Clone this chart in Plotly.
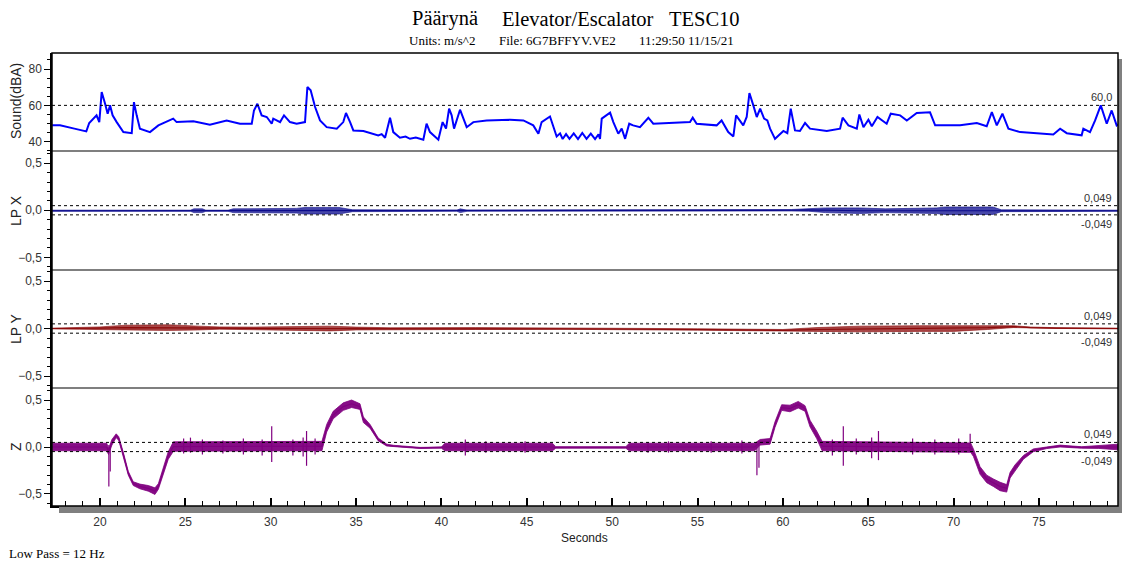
import plotly.graph_objects as go

W, H = 1122, 563

# ---------------- data ----------------
sound_t = [17.2, 17.66, 18.5, 19.2, 19.37, 19.8, 19.96, 20.1, 20.3, 20.45, 20.59, 20.74, 20.98, 21.37, 21.86,
           21.99, 22.15, 22.34, 22.93, 23.42, 24.29, 24.49, 25.47, 26.44, 27.42, 28.2, 28.89, 29.02, 29.22,
           29.47, 29.77, 30.06, 30.15, 30.55, 30.78, 31.13, 31.52, 32.01, 32.15, 32.34, 32.6, 32.89, 33.28,
           33.87, 34.25, 34.41, 34.65, 34.84, 35.43, 36.0, 36.3, 36.5, 36.7, 36.99, 37.18, 37.57, 37.9, 38.16,
           38.5, 38.94, 39.13,
           39.33, 39.82, 40.07, 40.27, 40.45, 40.6, 40.74, 41.09, 41.48, 41.87, 42.65, 44.02, 44.8, 45.38,
           45.68, 45.87, 46.36, 46.75, 46.95, 47.1, 47.3, 47.5, 47.75, 48.0, 48.25, 48.5, 48.75, 49.0, 49.2,
           49.29, 49.39, 49.88, 50.07, 50.36, 50.56, 50.76, 51.0,
           51.23, 51.63, 52.12, 52.41, 53.58, 54.56, 54.72, 54.95, 56.12, 56.41, 56.8, 57.1, 57.26, 57.68,
           57.88, 58.04, 58.27, 58.47, 58.67, 58.9, 59.09, 59.25, 59.54, 60.03, 60.26, 60.46, 60.71, 61.0,
           61.3, 61.59, 62.57, 63.35, 63.5, 63.84, 64.33, 64.48, 64.72, 65.01, 65.21, 65.54, 66.08, 66.32,
           66.87, 67.26, 67.84, 68.62, 68.92, 69.6, 70.38, 71.36, 71.94, 72.24, 72.53, 72.86, 73.21, 73.9,
           74.67, 75.84, 76.24, 76.63, 77.5, 77.6, 77.99, 78.29, 78.62, 78.97, 79.26, 79.55, 79.63]
sound_db = [49.0, 49.0, 47.2, 45.7, 50.3, 54.5, 50.8, 67.3, 60.9, 55.4, 60.0, 54.5, 50.8, 45.3, 44.7,
            61.8, 54.5, 47.2, 45.3, 49.0, 52.7, 50.8, 51.2, 49.4, 51.7, 49.9, 49.9, 57.2, 60.9,
            54.5, 53.6, 49.9, 52.7, 50.8, 54.5, 50.8, 49.9, 50.8, 70.1, 68.3, 59.1, 51.7, 48.0,
            47.2, 50.8, 55.8, 50.8, 46.2, 45.9, 44.4, 43.5, 44.2, 42.2, 53.2, 45.3, 42.2, 42.8, 41.6,
            42.3, 41.1, 49.9,
            45.3, 41.1, 50.8, 47.2, 58.2, 54.5, 47.2, 57.6, 48.0, 50.8, 51.7, 52.1, 51.7, 49.0,
            44.4, 50.8, 53.9, 42.9, 44.6, 41.5, 44.2, 41.6, 44.6, 41.5, 44.8, 41.6, 44.5, 41.5, 44.0,
            41.6, 52.7, 56.0, 50.8, 44.4, 47.2, 41.6, 49.9,
            49.0, 48.0, 53.2, 49.9, 50.2, 50.8, 53.2, 49.9, 49.0, 51.7, 45.3, 42.9, 54.5, 49.0,
            53.6, 66.8, 60.0, 53.6, 58.2, 52.7, 51.7, 47.2, 41.6, 45.9, 44.7, 58.2, 46.2, 45.9,
            50.3, 47.2, 45.9, 47.2, 53.2, 49.0, 47.2, 55.0, 48.0, 52.1, 48.5, 53.6, 49.9, 55.4,
            54.5, 51.7, 55.8, 56.2, 49.0, 49.0, 49.0, 50.3, 48.5, 56.3, 49.0, 55.4, 47.2, 45.3,
            44.7, 44.0, 47.2, 44.7, 43.5, 47.2, 45.3, 51.7, 60.0, 49.9, 57.2, 49.0, 49.5]

lpx_t    = [17.2, 25.3, 25.5, 26.0, 26.2, 27.5, 27.8, 31.5, 32.0, 34.0, 34.8, 40.9, 41.1, 41.5, 60.5,
            61.5, 62.5, 64.5, 66.0, 69.0, 69.5, 72.3, 72.8, 79.63]
lpx_mid  = [-0.005, -0.005, -0.005, -0.005, -0.005, -0.005, -0.005, -0.005, -0.005, -0.005, -0.005,
            -0.005, -0.005, -0.005, 0.0, 0.005, 0.0, -0.005, -0.005, -0.005, -0.005, -0.005, -0.005, -0.005]
lpx_half = [0.006, 0.006, 0.02, 0.02, 0.006, 0.006, 0.02, 0.025, 0.035, 0.035, 0.01, 0.006, 0.02, 0.006,
            0.008, 0.015, 0.025, 0.03, 0.02, 0.03, 0.04, 0.04, 0.01, 0.006]

lpy_t    = [17.2, 18.8, 20.0, 21.5, 24.0, 25.8, 27.0, 29.0, 31.5, 33.5, 35.0, 37.0, 42.0, 47.0, 50.0,
            55.0, 58.0, 60.0, 62.0, 64.5, 68.0, 70.0, 72.0, 73.5, 74.5, 76.0, 79.63]
lpy_mid  = [0.0, 0.0, 0.005, 0.01, 0.01, 0.005, 0.005, 0.0, 0.0, 0.0, 0.0, 0.0, 0.0, 0.0, -0.005,
            -0.01, -0.015, -0.02, -0.01, -0.005, 0.0, 0.0, 0.01, 0.02, 0.01, 0.005, 0.0]
lpy_half = [0.004, 0.008, 0.012, 0.025, 0.03, 0.02, 0.012, 0.015, 0.02, 0.025, 0.015, 0.008, 0.01, 0.008,
            0.006, 0.008, 0.008, 0.01, 0.02, 0.03, 0.03, 0.03, 0.02, 0.01, 0.006, 0.004, 0.004]

z_t    = [17.2, 20.4, 20.5, 20.7, 20.95, 21.1, 21.37, 21.66, 21.95, 22.34, 22.83, 23.22, 23.42, 23.71,
          24.0, 24.3, 33.0, 33.28, 33.66, 34.25, 34.74, 35.23, 35.43, 35.82, 36.3, 36.8, 37.2, 38.75,
          40.0, 40.2, 46.5, 46.7, 50.8, 51.0, 58.35, 58.67, 59.25, 59.54, 59.93, 60.42, 60.9, 61.3,
          61.59, 61.98, 62.3, 71.0, 71.16, 71.55, 71.94, 72.33, 72.72, 73.11, 73.31, 73.6, 74.09, 74.67,
          75.45, 76.24, 77.5, 78.5, 79.63]
z_mid  = [0.0, 0.0, -0.05, 0.05, 0.12, 0.09, -0.08, -0.28, -0.39, -0.42, -0.44, -0.47, -0.42, -0.25,
          -0.09, 0.005, 0.01, 0.2, 0.34, 0.43, 0.46, 0.43, 0.29, 0.22, 0.08, 0.02, 0.01, -0.01,
          -0.007, 0.0, 0.0, -0.005, -0.005, 0.0, 0.0, 0.05, 0.06, 0.24, 0.42, 0.41, 0.45, 0.41,
          0.25, 0.13, 0.01, -0.007, -0.06, -0.25, -0.34, -0.38, -0.42, -0.44, -0.30, -0.22, -0.11, -0.035,
          -0.007, 0.01, -0.005, 0.0, 0.0]
z_half = [0.04, 0.04, 0.03, 0.03, 0.02, 0.02, 0.02, 0.02, 0.02, 0.025, 0.03, 0.035, 0.03, 0.03,
          0.04, 0.05, 0.05, 0.04, 0.04, 0.04, 0.04, 0.03, 0.03, 0.02, 0.015, 0.01, 0.008, 0.006,
          0.006, 0.04, 0.04, 0.008, 0.008, 0.04, 0.04, 0.03, 0.03, 0.03, 0.03, 0.035, 0.035, 0.03,
          0.035, 0.04, 0.05, 0.05, 0.04, 0.04, 0.04, 0.04, 0.045, 0.04, 0.03, 0.03, 0.02, 0.015,
          0.01, 0.01, 0.008, 0.015, 0.03]

# isolated spikes in the Z trace: time, top, bottom
zs_t  = [20.52, 20.6, 24.9, 25.3, 26.0, 27.2, 28.4, 29.5, 30.06, 31.3, 31.9, 32.1, 32.6, 41.4, 42.6, 44.9,
         52.1, 53.3, 55.8, 57.6, 58.48, 58.6, 62.9, 63.54, 64.3, 65.2, 65.6, 67.6, 68.9, 70.3, 70.97]
zs_hi = [0.02, 0.0, 0.09, 0.10, 0.08, 0.07, 0.09, 0.08, 0.22, 0.08, 0.10, 0.17, 0.09, 0.08, 0.06, 0.06,
         0.05, 0.06, 0.06, 0.07, 0.0, 0.03, 0.08, 0.22, 0.09, 0.10, 0.17, 0.09, 0.08, 0.09, 0.14]
zs_lo = [-0.42, -0.26, -0.07, -0.06, -0.08, -0.07, -0.08, -0.09, -0.16, -0.09, -0.10, -0.20, -0.08, -0.09,
         -0.06, -0.06, -0.06, -0.06, -0.06, -0.07, -0.30, -0.22, -0.09, -0.20, -0.08, -0.12, -0.14, -0.08,
         -0.08, -0.08, -0.05]

sound_ref = [60.0]
lp_ref = [0.049, -0.049]
sound_ref_lbl = ["60,0"]
lp_ref_lbl = ["0,049", "-0,049"]

x_range = [17.19, 79.63]
sound_range = [34.9, 88.8]
lpx_range = [-0.635, 0.63]
lpy_range = [-0.626, 0.616]
z_range = [-0.628, 0.628]

# ---------------- layout helpers ----------------
def px(x):
    return x / W


def py(y):
    return 1 - y / H


L, R = 52, 1118
TOP, B1, B2, B3, BOT = 53, 151, 270, 388, 506
xdom = [px(L), px(R)]

SANS = "Liberation Sans, Arial, sans-serif"
SERIF = "Liberation Serif, Times New Roman, serif"
TXT = "#333333"

fig = go.Figure()

fig.add_trace(go.Scatter(x=sound_t, y=sound_db, mode="lines", xaxis="x", yaxis="y",
                         line=dict(color="#0000ff", width=2), hoverinfo="skip", showlegend=False))


def band(t, mid, half, yaxis, fillc, linec, lw):
    up = [m + h for m, h in zip(mid, half)]
    lo = [m - h for m, h in zip(mid, half)]
    fig.add_trace(go.Scatter(x=list(t) + list(t)[::-1], y=up + lo[::-1], mode="lines",
                             xaxis="x", yaxis=yaxis, fill="toself", fillcolor=fillc,
                             line=dict(color=linec, width=lw), hoverinfo="skip", showlegend=False))
    fig.add_trace(go.Scatter(x=t, y=mid, mode="lines", xaxis="x", yaxis=yaxis,
                             line=dict(color=linec, width=1.2), hoverinfo="skip", showlegend=False))


band(lpx_t, lpx_mid, lpx_half, "y2", "rgba(10,10,140,0.75)", "#0a0a8c", 0.6)
band(lpy_t, lpy_mid, lpy_half, "y3", "rgba(140,10,10,0.75)", "#8c0a0a", 0.6)
band(z_t, z_mid, z_half, "y4", "rgba(128,0,128,0.95)", "#800080", 0.8)

sx, sy = [], []
for t, hi, lo in zip(zs_t, zs_hi, zs_lo):
    sx += [t, t, None]
    sy += [hi, lo, None]
fig.add_trace(go.Scatter(x=sx, y=sy, mode="lines", xaxis="x", yaxis="y4",
                         line=dict(color="#800080", width=1.2), hoverinfo="skip", showlegend=False))

shapes = []
annotations = []


def ref_lines(levels, labels, yref):
    for lv, lb in zip(levels, labels):
        shapes.append(dict(type="line", xref="x domain", x0=0, x1=1, yref=yref, y0=lv, y1=lv,
                           line=dict(color="#000000", width=1, dash="3px,3px")))
        above = lv >= 0
        annotations.append(dict(text=lb, xref="paper", x=px(1114), yref=yref, y=lv,
                                xanchor="right", yanchor="bottom" if above else "top",
                                yshift=0 if above else -1,
                                showarrow=False, font=dict(family=SANS, size=11, color=TXT)))


ref_lines(sound_ref, sound_ref_lbl, "y")
ref_lines(lp_ref, lp_ref_lbl, "y2")
ref_lines(lp_ref, lp_ref_lbl, "y3")
ref_lines(lp_ref, lp_ref_lbl, "y4")

# shadow
shapes.append(dict(type="rect", xref="paper", yref="paper", x0=px(59), x1=px(1124), y0=py(513), y1=py(BOT),
                   fillcolor="#808080", line=dict(width=0), layer="above"))
shapes.append(dict(type="rect", xref="paper", yref="paper", x0=px(R), x1=px(1124), y0=py(513), y1=py(59),
                   fillcolor="#808080", line=dict(width=0), layer="above"))
# frame and panel separators
shapes.append(dict(type="rect", xref="paper", yref="paper", x0=px(L), x1=px(R), y0=py(BOT), y1=py(TOP),
                   line=dict(color="#000000", width=1.5)))
for yy in (B1, B2, B3):
    shapes.append(dict(type="line", xref="paper", yref="paper", x0=px(L), x1=px(R), y0=py(yy), y1=py(yy),
                       line=dict(color="#000000", width=1.2)))


def text(s, x, y, size, family, xanchor="left", angle=0, color="#000000"):
    annotations.append(dict(text=s, xref="paper", yref="paper", x=px(x), y=py(y), xanchor=xanchor,
                            yanchor="middle", textangle=angle, showarrow=False,
                            font=dict(family=family, size=size, color=color)))


text("Päärynä", 410, 19, 20.5, SERIF)
text("Elevator/Escalator", 500, 19, 20.5, SERIF)
text("TESC10", 667, 19, 20.5, SERIF)
text("Units: m/s^2", 407, 41, 13, SERIF)
text("File: 6G7BFFYV.VE2", 497, 41, 13, SERIF)
text("11:29:50 11/15/21", 637, 41, 13, SERIF)
text("Seconds", 584, 538, 12, SANS, xanchor="center", color="#222222")
text("Low Pass = 12 Hz", 7, 553, 13, SERIF)
text("Sound(dBA)", 16, 101, 14, SANS, xanchor="center", angle=-90, color="#222222")
text("LP X", 16, 210, 14, SANS, xanchor="center", angle=-90, color="#222222")
text("LP Y", 16, 328, 14, SANS, xanchor="center", angle=-90, color="#222222")
text("Z", 16, 446, 14, SANS, xanchor="center", angle=-90, color="#222222")

ytick = dict(showline=True, linecolor="#000000", linewidth=1.5, ticks="outside", ticklen=6,
             tickwidth=1.2, tickcolor="#000000", showgrid=False, zeroline=False, anchor="x",
             tickfont=dict(family=SANS, size=12, color=TXT))

fig.update_layout(
    width=W, height=H, autosize=False,
    margin=dict(l=0, r=0, t=0, b=0),
    paper_bgcolor="#ffffff", plot_bgcolor="#ffffff",
    separators=",.",
    showlegend=False,
    xaxis=dict(domain=xdom, range=x_range, anchor="y4", showline=True, linecolor="#000000", linewidth=1.5,
               ticks="inside", ticklen=8, tickwidth=1.5, tickcolor="#000000", tick0=0, dtick=5,
               minor=dict(dtick=1, ticks="inside", ticklen=5, tickcolor="#000000", tickwidth=1.2),
               showgrid=False, zeroline=False, ticklabelstandoff=4,
               tickfont=dict(family=SANS, size=12, color=TXT)),
    yaxis=dict(domain=[py(B1), py(TOP)], range=sound_range, tick0=0, dtick=20,
               minor=dict(dtick=5, ticks="outside", ticklen=3, tickcolor="#000000"), **ytick),
    yaxis2=dict(domain=[py(B2), py(B1)], range=lpx_range, tick0=0, dtick=0.5, tickformat=".1f",
                minor=dict(dtick=0.1, ticks="outside", ticklen=3, tickcolor="#000000"), **ytick),
    yaxis3=dict(domain=[py(B3), py(B2)], range=lpy_range, tick0=0, dtick=0.5, tickformat=".1f",
                minor=dict(dtick=0.1, ticks="outside", ticklen=3, tickcolor="#000000"), **ytick),
    yaxis4=dict(domain=[py(BOT), py(B3)], range=z_range, tick0=0, dtick=0.5, tickformat=".1f",
                minor=dict(dtick=0.1, ticks="outside", ticklen=3, tickcolor="#000000"), **ytick),
    shapes=shapes,
    annotations=annotations,
)

fig.write_html("out.html")
